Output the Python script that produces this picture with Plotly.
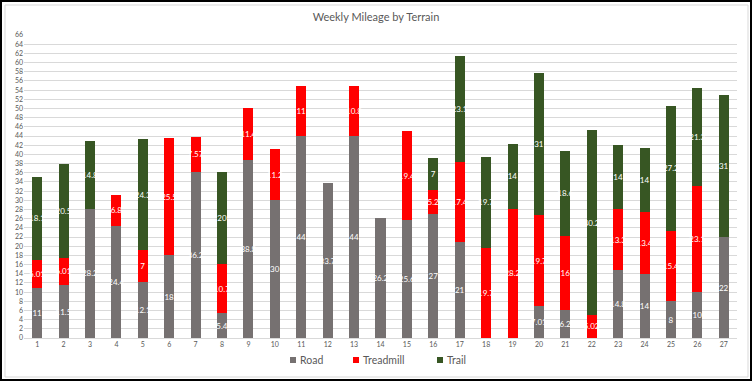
import plotly.graph_objects as go

weeks = [str(i) for i in range(1, 28)]
road = [11.0, 11.5, 28.2, 24.4, 12.1, 18.0, 36.2, 5.4, 38.8, 30.0, 44.0, 33.7, 44.0, 26.2,
        25.6, 27, 21, None, None, 7.01, 6.2, None, 14.8, 14, 8, 10, 22]
treadmill = [6.01, 6.01, None, 6.8, 7, 25.5, 7.57, 10.7, 11.4, 11.2, 11, None, 10.8, None,
             19.4, 5.2, 17.4, 19.7, 28.2, 19.7, 16.0, 5.02, 13.3, 13.4, 15.4, 23.1, None]
trail = [18.1, 20.5, 14.8, None, 24.3, None, None, 20.0, None, None, None, None, None, None,
         None, 7, 23.1, 19.7, 14.0, 31, 18.6, 40.2, 14.0, 14, 27.2, 21.3, 31]

series = [("Road", road, "#767171"), ("Treadmill", treadmill, "#FF0000"), ("Trail", trail, "#375623")]
FONT = "Lato"

fig = go.Figure()
for name, vals, col in series:
    fig.add_trace(go.Bar(
        x=weeks, y=vals, name=name,
        marker=dict(color=col, line=dict(width=0)),
        text=[("" if v is None else f"{v:g}") for v in vals],
        textposition="inside", insidetextanchor="middle",
        textangle=0, constraintext="none",
        textfont=dict(color="white", size=8, family=FONT),
        showlegend=False,
    ))

L, R, T, B = 24, 737, 35, 338
W, H = 752, 386
pw, ph = R - L, B - T
def px(x): return (x - L) / pw
def py(y): return (B - y) / ph

shapes = [
    dict(type="rect", xref="paper", yref="paper", x0=px(5), x1=px(748), y0=py(5), y1=py(377),
         line=dict(color="#D9D9D9", width=1), layer="below"),
    dict(type="rect", xref="paper", yref="paper", x0=px(1), x1=px(751), y0=py(1), y1=py(380),
         line=dict(color="black", width=2), layer="above"),
]
annotations = []
leg_y = 360
for (name, vals, col), sq_x in zip(series, [290, 353, 437]):
    shapes.append(dict(type="rect", xref="paper", yref="paper",
                       x0=px(sq_x), x1=px(sq_x + 6), y0=py(leg_y + 3), y1=py(leg_y - 3),
                       fillcolor=col, line=dict(width=0)))
    annotations.append(dict(text=name, xref="paper", yref="paper", x=px(sq_x + 8), y=py(leg_y),
                            xanchor="left", yanchor="middle", showarrow=False,
                            font=dict(family=FONT, size=10.5, color="#595959")))

fig.update_layout(
    width=W, height=H,
    barmode="stack", bargap=0.62,
    plot_bgcolor="white", paper_bgcolor="white",
    margin=dict(l=L, r=W - R, t=T, b=H - B, pad=0),
    title=dict(text="Weekly Mileage by Terrain", x=0.5, xanchor="center",
               y=1 - 17 / H, yanchor="middle",
               font=dict(family=FONT, size=11, color="#595959")),
    font=dict(family=FONT, color="#595959"),
    xaxis=dict(showgrid=False, showline=True, linecolor="#D9D9D9", ticks="",
               tickfont=dict(size=7, color="#595959")),
    yaxis=dict(range=[0, 66], dtick=2, showgrid=True, gridcolor="#D9D9D9", gridwidth=1,
               zeroline=False, ticks="", tickfont=dict(size=7, color="#595959"),
               fixedrange=True),
    showlegend=False,
    shapes=shapes,
    annotations=annotations,
)

fig.write_html("out.html", config={"displayModeBar": False},
               post_script="document.body.style.margin='0';document.body.style.overflow='hidden';")
